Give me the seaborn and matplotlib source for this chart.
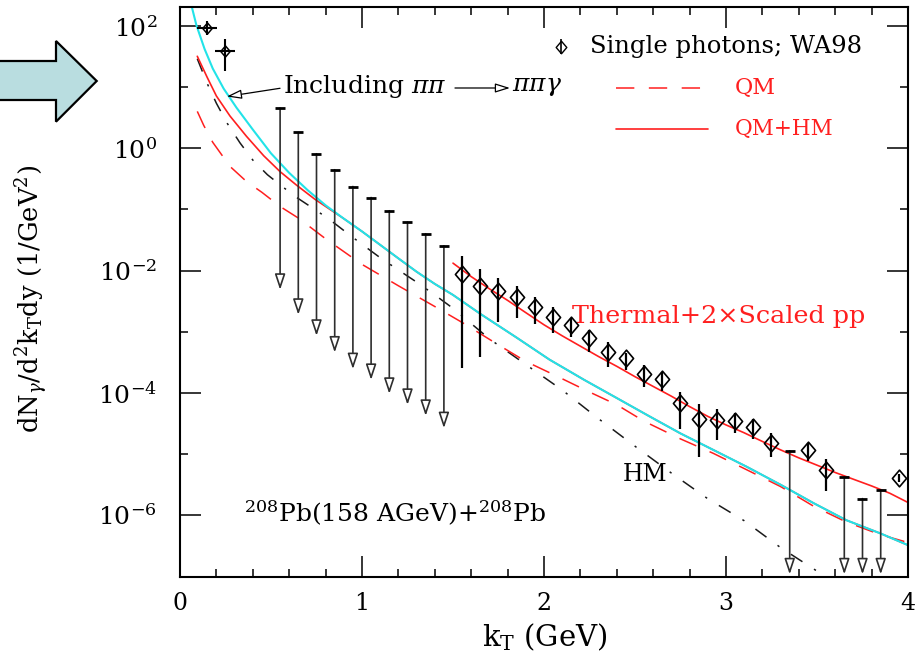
import numpy as np
import matplotlib
matplotlib.use("Agg")
import matplotlib.pyplot as plt
from matplotlib.path import Path
from matplotlib.patches import Polygon
from matplotlib.ticker import FixedLocator, NullFormatter
import seaborn as sns

# ---------------- model curves: dN/d^2kT dy (1/GeV^2) vs kT (GeV) ----------------
# QM+HM including pi pi -> pi pi gamma (cyan)
kt_incl = [0.064, 0.09, 0.135, 0.18, 0.24, 0.31, 0.40, 0.50, 0.60, 0.70, 0.80, 0.90,
           1.00, 1.10, 1.20, 1.30, 1.40, 1.50, 1.65, 1.85, 2.03, 2.22, 2.40, 2.58,
           2.75, 2.93, 3.11, 3.30, 3.48, 3.66, 3.85, 4.00]
incl_pipi = [214, 105, 42.7, 20.4, 9.55, 4.68, 2.04, 0.832, 0.398, 0.209, 0.117, 0.0708,
             0.0437, 0.0263, 0.0158, 9.55e-3, 6.03e-3, 3.98e-3, 1.95e-3, 7.94e-4, 3.47e-4,
             1.62e-4, 8.13e-5, 4.07e-5, 2.14e-5, 1.15e-5, 6.17e-6, 3.09e-6, 1.55e-6,
             8.13e-7, 4.90e-7, 3.16e-7]

# QM+HM (red solid)
kt_qmhm = [0.095, 0.15, 0.20, 0.275, 0.365, 0.46, 0.55, 0.64, 0.74, 0.84, 0.90,
           1.00, 1.10, 1.20, 1.30, 1.40, 1.50, 1.65, 1.85, 2.03, 2.22, 2.40, 2.58,
           2.75, 2.93, 3.11, 3.30, 3.48, 3.66, 3.85, 4.00]
qm_hm = [32.4, 14.5, 7.24, 3.39, 1.585, 0.759, 0.417, 0.251, 0.148, 0.0933, 0.0708,
         0.0437, 0.0263, 0.0158, 9.55e-3, 6.03e-3, 3.98e-3, 1.95e-3, 7.94e-4, 3.47e-4,
         1.62e-4, 8.13e-5, 4.07e-5, 2.14e-5, 1.15e-5, 6.17e-6, 3.09e-6, 1.55e-6,
         8.13e-7, 4.90e-7, 3.16e-7]

# QM only (red dashed)
kt_qm = [0.095, 0.13, 0.18, 0.275, 0.365, 0.45, 0.55, 0.65, 0.80, 1.00, 1.20, 1.40,
         1.55, 1.75, 1.90, 2.07, 2.25, 2.40, 2.55, 2.75, 2.93, 3.11, 3.30, 3.48,
         3.66, 3.85, 3.98]
qm = [4.05, 2.40, 1.26, 0.507, 0.288, 0.191, 0.112, 0.0724, 0.0331, 0.0126, 5.62e-3,
      2.57e-3, 1.41e-3, 6.03e-4, 3.24e-4, 1.86e-4, 1.02e-4, 6.31e-5, 3.39e-5, 1.74e-5,
      1.01e-5, 5.50e-6, 2.88e-6, 1.38e-6, 7.59e-7, 4.68e-7, 3.63e-7]

# HM only (black dash-dot)
kt_hm = [0.095, 0.15, 0.20, 0.26, 0.33, 0.40, 0.48, 0.56, 0.64, 0.73, 0.82, 0.92,
         1.00, 1.10, 1.20, 1.30, 1.40, 1.50, 1.70, 1.90, 2.10, 2.30, 2.50, 2.70,
         2.90, 3.10, 3.30, 3.45, 3.56]
hm = [29.5, 11.5, 5.50, 2.57, 1.23, 0.646, 0.372, 0.240, 0.158, 0.105, 0.0692, 0.0407,
      0.0269, 0.0162, 0.0102, 6.46e-3, 3.98e-3, 2.40e-3, 7.59e-4, 2.88e-4, 1.10e-4,
      3.72e-5, 1.32e-5, 4.79e-6, 1.82e-6, 7.94e-7, 2.88e-7, 1.48e-7, 9.12e-8]

# Thermal + 2 x scaled pp (red solid, upper)
kt_thermal = [1.50, 1.60, 1.70, 1.80, 1.90, 2.00, 2.10, 2.20, 2.30, 2.40, 2.50, 2.60,
              2.70, 2.80, 2.90, 3.00, 3.10, 3.20, 3.30, 3.40, 3.50, 3.60, 3.70, 3.80,
              3.90, 4.00]
thermal_pp = [0.0132, 7.94e-3, 5.01e-3, 3.24e-3, 2.04e-3, 1.29e-3, 8.51e-4, 5.75e-4,
              3.89e-4, 2.69e-4, 1.82e-4, 1.26e-4, 8.71e-5, 5.89e-5, 4.07e-5, 2.95e-5,
              2.19e-5, 1.58e-5, 1.15e-5, 8.51e-6, 6.46e-6, 4.90e-6, 3.80e-6, 2.95e-6,
              2.24e-6, 1.58e-6]

# ---------------- WA98 single photons ----------------
wa98_kt = [1.55, 1.65, 1.75, 1.85, 1.95, 2.05, 2.15, 2.25, 2.35, 2.45, 2.55, 2.65,
           2.75, 2.85, 2.95, 3.05, 3.15, 3.25, 3.45, 3.55, 3.95]
wa98_y = [8.83e-3, 5.61e-3, 4.70e-3, 3.66e-3, 2.51e-3, 1.72e-3, 1.29e-3, 7.98e-4,
          4.70e-4, 3.66e-4, 2.03e-4, 1.66e-4, 6.70e-5, 3.66e-5, 3.56e-5, 3.48e-5,
          2.77e-5, 1.51e-5, 1.15e-5, 5.41e-6, 3.95e-6]
wa98_hi = [1.70e-2, 1.05e-2, 7.50e-3, 5.61e-3, 3.66e-3, 2.51e-3, 1.66e-3, 1.07e-3,
           6.85e-4, 4.43e-4, 2.84e-4, 2.21e-4, 1.04e-4, 6.53e-5, 5.35e-5, 4.70e-5,
           3.66e-5, 2.21e-5, 1.48e-5, 8.09e-6, 4.68e-6]
wa98_lo = [2.51e-4, 3.80e-4, 1.46e-3, 1.66e-3, 1.34e-3, 9.64e-4, 8.09e-4, 4.70e-4,
           2.67e-4, 2.30e-4, 1.23e-4, 1.08e-4, 2.51e-5, 8.93e-6, 1.68e-5, 2.21e-5,
           1.72e-5, 8.73e-6, 7.67e-6, 2.47e-6, 3.39e-6]

# low-kT points (with kT bins)
low_kt = [0.147, 0.247]
low_kt_err = [0.055, 0.055]
low_y = [94.2, 38.9]
low_hi = [121.0, 62.1]
low_lo = [73.1, 18.3]

# upper limits: bar at the limit, arrow pointing down
ul_kt = [0.55, 0.65, 0.75, 0.85, 0.95, 1.05, 1.15, 1.25, 1.35, 1.45,
         3.35, 3.65, 3.75, 3.85]
ul_top = [4.59, 1.83, 0.818, 0.448, 0.238, 0.157, 0.0953, 0.0621, 0.0400, 0.0254,
          1.11e-5, 4.15e-6, 1.83e-6, 2.51e-6]
ul_tip = [4.83e-3, 1.88e-3, 8.51e-4, 4.53e-4, 2.42e-4, 1.61e-4, 9.53e-5, 6.28e-5,
          4.15e-5, 2.61e-5, 1.05e-7, 1.05e-7, 1.05e-7, 1.05e-7]

RED = "#ff1f1f"
CYAN = "#22e3e8"

sns.set_theme(style="ticks")
plt.rcParams["font.family"] = ["DejaVu Serif"]
plt.rcParams["mathtext.fontset"] = "dejavuserif"
plt.rcParams["axes.linewidth"] = 1.5
plt.rcParams["axes.edgecolor"] = "black"
plt.rcParams["text.color"] = "black"
plt.rcParams["axes.labelcolor"] = "black"
plt.rcParams["xtick.color"] = "black"
plt.rcParams["ytick.color"] = "black"

W, H = 920, 659
fig = plt.figure(figsize=(W / 100, H / 100), dpi=100)
fig.patch.set_facecolor("white")
ax = fig.add_axes([180 / W, 1 - 577 / H, 728 / W, 570 / H])
ax.set_facecolor("white")
ax.set_yscale("log")
ax.set_xlim(0, 4)
ax.set_ylim(9.5e-8, 2.08e2)

# model curves
sns.lineplot(x=kt_hm, y=hm, ax=ax, sort=False, errorbar=None, color="#1a1a1a",
             lw=1.1, linestyle=(0, (9, 9, 1.5, 9)))
sns.lineplot(x=kt_qm, y=qm, ax=ax, sort=False, errorbar=None, color=RED,
             lw=1.1, linestyle=(0, (12, 9.5)))
sns.lineplot(x=kt_qmhm, y=qm_hm, ax=ax, sort=False, errorbar=None, color=RED, lw=1.2)
sns.lineplot(x=kt_incl, y=incl_pipi, ax=ax, sort=False, errorbar=None, color=CYAN, lw=1.5)
sns.lineplot(x=kt_thermal, y=thermal_pp, ax=ax, sort=False, errorbar=None, color=RED, lw=1.2)

# open diamond marker
diamond = Path([(0, 1), (0.85, 0), (0, -1), (-0.85, 0), (0, 1)],
               [Path.MOVETO, Path.LINETO, Path.LINETO, Path.LINETO, Path.CLOSEPOLY])

# WA98 data
wy = np.array(wa98_y)
yerr = [wy - np.array(wa98_lo), np.array(wa98_hi) - wy]
ax.errorbar(wa98_kt, wa98_y, yerr=yerr, fmt="none", ecolor="black",
            elinewidth=1.6, capsize=0, zorder=5)
ax.plot(wa98_kt, wa98_y, ls="none", marker=diamond, ms=12, mfc="none",
        mec="black", mew=1.2, zorder=6)

ly = np.array(low_y)
ax.errorbar(low_kt, low_y, xerr=low_kt_err,
            yerr=[ly - np.array(low_lo), np.array(low_hi) - ly],
            fmt="none", ecolor="black", elinewidth=1.5, capsize=0, zorder=5)
ax.plot(low_kt, low_y, ls="none", marker=diamond, ms=8, mfc="none",
        mec="black", mew=1.1, zorder=6)

# upper limits
for x, top, tip in zip(ul_kt, ul_top, ul_tip):
    ax.annotate("", xy=(x, tip), xytext=(x, top),
                arrowprops=dict(arrowstyle="-|>,head_length=0.9,head_width=0.3",
                                mutation_scale=10.5, fc="white", ec="#2e2e2e", lw=1.2,
                                shrinkA=0, shrinkB=0), zorder=4)
ax.plot(ul_kt, ul_top, ls="none", marker="_", ms=7.5, mew=2.0, color="black", zorder=5)

# ticks
ax.xaxis.set_major_locator(FixedLocator([0, 1, 2, 3, 4]))
ax.xaxis.set_minor_locator(FixedLocator([0.2, 0.4, 0.6, 0.8, 1.2, 1.4, 1.6, 1.8, 2.2,
                                         2.4, 2.6, 2.8, 3.2, 3.4, 3.6, 3.8]))
ax.set_xticklabels(["0", "1", "2", "3", "4"])
ax.yaxis.set_major_locator(FixedLocator([1e2, 1e0, 1e-2, 1e-4, 1e-6]))
ax.yaxis.set_minor_locator(FixedLocator([1e1, 1e-1, 1e-3, 1e-5]))
ax.yaxis.set_minor_formatter(NullFormatter())
ax.set_yticklabels([r"$10^{2}$", r"$10^{0}$", r"$10^{-2}$", r"$10^{-4}$", r"$10^{-6}$"])
ax.tick_params(which="both", direction="in", top=True, right=True, colors="black",
               width=1.1)
ax.tick_params(which="major", length=15)
ax.tick_params(which="minor", length=6)
ax.tick_params(axis="y", which="major", pad=16.5, labelsize=18)
ax.tick_params(axis="x", which="major", pad=11, labelsize=17)
for s in ax.spines.values():
    s.set_visible(True)
    s.set_linewidth(1.5)

ax.set_ylabel(r"dN$_\gamma$/d$^2$k$_{\rm T}$dy (1/GeV$^2$)", fontsize=18.5)
ax.yaxis.set_label_coords(-0.177, 0.488)
ax.set_xlabel(r"k$_{\rm T}$ (GeV)", fontsize=21)
ax.xaxis.set_label_coords(0.501, -0.078)

# key
ax.errorbar([0.523], [0.9304], yerr=[[0.013], [0.013]], fmt="none", ecolor="black",
            elinewidth=1.2, transform=ax.transAxes, clip_on=False)
ax.plot([0.523], [0.9304], marker=diamond, ms=9, mfc="none", mec="black", mew=1.0,
        transform=ax.transAxes)
ax.text(0.5632, 0.9304, "Single photons; WA98", transform=ax.transAxes,
        va="center", ha="left", fontsize=17.5)
ax.plot([0.599, 0.7184], [0.8584, 0.8584], color=RED, lw=1.1, linestyle=(0, (12, 9.5)),
        transform=ax.transAxes)
ax.text(0.7624, 0.8584, "QM", color=RED, transform=ax.transAxes,
        va="center", ha="left", fontsize=16)
ax.plot([0.599, 0.7253], [0.786, 0.786], color=RED, lw=1.2, transform=ax.transAxes)
ax.text(0.7624, 0.786, "QM+HM", color=RED, transform=ax.transAxes,
        va="center", ha="left", fontsize=15.5)

# annotations
ax.text(0.1415, 0.8614, r"Including $\pi\pi$", transform=ax.transAxes,
        va="center", ha="left", fontsize=18)
ax.annotate("", xy=(0.4533, 0.8579), xytext=(0.3777, 0.8579),
            xycoords="axes fraction", textcoords="axes fraction",
            arrowprops=dict(arrowstyle="-|>,head_length=0.9,head_width=0.28",
                            mutation_scale=10, fc="white", ec="black", lw=0.9,
                            shrinkA=0, shrinkB=0))
ax.text(0.456, 0.8614, r"$\pi\pi\gamma$", transform=ax.transAxes,
        va="center", ha="left", fontsize=18)
ax.annotate("", xy=(0.257, 7.1), xycoords="data", xytext=(0.1374, 0.8574),
            textcoords="axes fraction",
            arrowprops=dict(arrowstyle="-|>,head_length=0.9,head_width=0.28",
                            mutation_scale=10, fc="white", ec="black", lw=0.9,
                            shrinkA=0, shrinkB=0))
ax.text(0.538, 0.4567, "Thermal+2\u00d7Scaled pp", color=RED, transform=ax.transAxes,
        va="center", ha="left", fontsize=18.3)
ax.text(0.608, 0.179, "HM", transform=ax.transAxes, va="center", ha="left", fontsize=17)
ax.text(0.0875, 0.1123, r"$^{208}$Pb(158 AGeV)+$^{208}$Pb", transform=ax.transAxes,
        va="center", ha="left", fontsize=18)

# light blue pointer arrow at the left
pts = [(-5, 61), (56, 61), (56, 41), (96.7, 81), (56, 121.7), (56, 100), (-5, 100)]
arrow = Polygon([(px / W, 1 - py / H) for px, py in pts], closed=True,
                transform=fig.transFigure, facecolor="#b9dde0", edgecolor="black",
                lw=1.6, clip_on=False)
fig.add_artist(arrow)

fig.savefig("out.png", dpi=100, facecolor="white")
